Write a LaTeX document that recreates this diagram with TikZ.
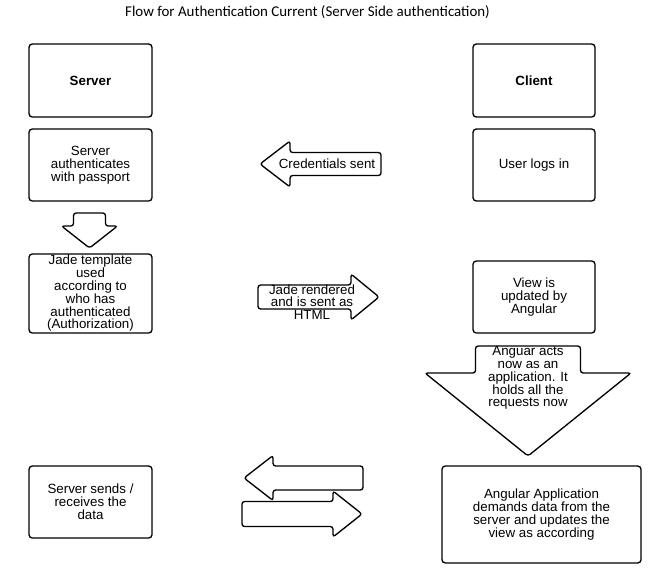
\documentclass[tikz,border=0pt]{standalone}
\usepackage{fontspec}
\setmainfont{Liberation Sans}
\newfontfamily\titlefont{Carlito}

\tikzset{
  block/.style={draw, line width=1pt, rounded corners=2.5pt, fill=white, align=center, inner sep=0pt, font=\fontsize{10}{9.6}\selectfont},
  arrowshape/.style={draw, line width=1pt, rounded corners=2pt, fill=white},
  arrowtext/.style={align=center, inner sep=0pt, font=\fontsize{10}{9.6}\selectfont}
}

% tail x, tail y, angle, length, head length, body half, head half
\NewDocumentCommand{\fatarrow}{mmmmmmm}{%
\begin{scope}[shift={(#1,#2)},rotate=#3]%
\draw[arrowshape] (0,-#6) -- (#4-#5,-#6) -- (#4-#5,-#7) -- (#4,0) -- (#4-#5,#7) -- (#4-#5,#6) -- (0,#6) -- cycle;%
\end{scope}%
}

\begin{document}
\begin{tikzpicture}[x=0.75pt,y=-0.75pt]
        \useasboundingbox (0,0) rectangle (655,572);
        \node[font=\titlefont\fontsize{11.2}{13}\selectfont] (title) at (307.5,12) {Flow for Authentication Current (Server Side authentication)};

        % server side
        \node[block, minimum width=92.25pt, minimum height=54.75pt] (server) at (90.5,80.5) {\textbf{Server}};
        \node[block, minimum width=92.25pt, minimum height=54pt] (auth) at (90.5,165) {Server\\authenticates\\with passport};
        \fatarrow{89.5}{213}{-90}{35}{22}{16}{28}
        \node[block, minimum width=92.25pt, minimum height=59.25pt] (jade) at (90.5,293.5) {Jade template\\used\\according to\\who has\\authenticated\\(Authorization)};
        \node[block, minimum width=92.25pt, minimum height=54pt] (sends) at (90.5,502) {Server sends /\\receives the\\data};

        % client side
        \node[block, minimum width=91.5pt, minimum height=54.75pt] (client) at (534,80.5) {\textbf{Client}};
        \node[block, minimum width=91.5pt, minimum height=54pt] (login) at (534,165) {User logs in};
        \node[block, minimum width=91.5pt, minimum height=54pt] (view) at (534,297) {View is\\updated by\\Angular};
        \fatarrow{528}{346}{-90}{110}{83}{52.5}{103}
        \node[arrowtext] (acts) at (528,378) {Anguar acts\\now as an\\application. It\\holds all the\\requests now};
        \node[block, minimum width=149.25pt, minimum height=72.75pt] (app) at (541.5,514.5) {Angular Application\\demands data from the\\server and updates the\\view as according};

        % messages
        \fatarrow{381}{164}{180}{121}{30}{11.5}{23}
        \node[arrowtext] (cred) at (327,164) {Credentials sent};
        \fatarrow{258}{297}{0}{121}{28}{12}{23}
        \node[arrowtext] (rendered) at (312,302) {Jade rendered\\and is sent as\\HTML};
        \fatarrow{363}{478}{180}{119}{29}{12}{22.5}
        \fatarrow{242}{514}{0}{120}{29}{12.5}{23}
    \end{tikzpicture}
\end{document}
